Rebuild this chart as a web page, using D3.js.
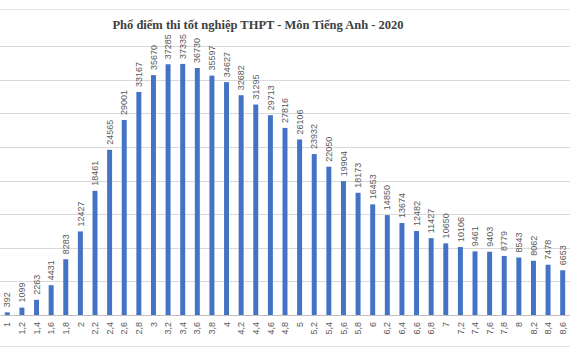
<!DOCTYPE html>
<html>
<head>
<meta charset="utf-8">
<script src="https://cdn.jsdelivr.net/npm/d3@7"></script>
<style>
  html, body { margin: 0; padding: 0; background: #fff; }
  svg { display: block; }
</style>
</head>
<body>
<svg id="chart" width="570" height="350"></svg>
<script>
// Score brackets (English exam, 2020)
const scores = ["1","1,2","1,4","1,6","1,8","2","2,2","2,4","2,6","2,8",
  "3","3,2","3,4","3,6","3,8","4","4,2","4,4","4,6","4,8",
  "5","5,2","5,4","5,6","5,8","6","6,2","6,4","6,6","6,8",
  "7","7,2","7,4","7,6","7,8","8","8,2","8,4","8,6"];

// Number of candidates per score bracket
const counts = [392, 1099, 2263, 4431, 8283, 12427, 18461, 24565, 29001, 33167,
  35670, 37285, 37335, 36730, 35597, 34627, 32682, 31295, 29713, 27816,
  26106, 23932, 22050, 19904, 18173, 16453, 14850, 13674, 12482, 11427,
  10650, 10106, 9461, 9403, 8779, 8543, 8062, 7478, 6653];

// Horizontal gridline values
const gridValues = [0, 5000, 10000, 15000, 20000, 25000, 30000, 35000, 40000];

const title = "Phổ điểm thi tốt nghiệp THPT - Môn Tiếng Anh - 2020";

const svg = d3.select("#chart");
const W = 570, H = 350;
const plot = { left: 0, right: 570, top: 46, bottom: 315 };

const x = d3.scaleBand()
  .domain(scores)
  .range([plot.left, plot.right])
  .paddingInner(0.66)
  .paddingOuter(0.33);

const y = d3.scaleLinear()
  .domain([0, 40000])
  .range([plot.bottom, plot.top]);

// Outer frame lines
svg.append("line")
  .attr("x1", 0).attr("x2", W).attr("y1", 9.5).attr("y2", 9.5)
  .attr("stroke", "#e3e3e3").attr("stroke-width", 1);
svg.append("line")
  .attr("x1", 0).attr("x2", W).attr("y1", 346.5).attr("y2", 346.5)
  .attr("stroke", "#e3e3e3").attr("stroke-width", 1);

// Gridlines
svg.append("g")
  .selectAll("line")
  .data(gridValues.filter(v => v > 0))
  .join("line")
  .attr("x1", plot.left).attr("x2", plot.right)
  .attr("y1", d => Math.round(y(d)) + 0.5)
  .attr("y2", d => Math.round(y(d)) + 0.5)
  .attr("stroke", "#d9d9d9").attr("stroke-width", 1);

// Category axis
const xAxis = d3.axisBottom(x).tickSize(0).tickPadding(0);
const gx = svg.append("g")
  .attr("transform", `translate(0,${plot.bottom})`)
  .call(xAxis);
gx.select(".domain").attr("stroke", "#bfbfbf");
gx.selectAll("text")
  .attr("fill", "#595959")
  .attr("font-family", "Liberation Sans, Arial, sans-serif")
  .attr("font-size", 9)
  .attr("text-anchor", "end")
  .attr("dy", "0.35em")
  .attr("transform", "translate(0,7) rotate(-90)")
  .attr("x", 0).attr("y", 0);

// Bars
svg.append("g")
  .selectAll("rect")
  .data(counts)
  .join("rect")
  .attr("x", (d, i) => x(scores[i]))
  .attr("width", x.bandwidth())
  .attr("y", d => y(d))
  .attr("height", d => y(0) - y(d))
  .attr("fill", "#4472c4");

// Value labels
svg.append("g")
  .selectAll("text")
  .data(counts)
  .join("text")
  .attr("transform", (d, i) =>
    `translate(${x(scores[i]) + x.bandwidth() / 2},${y(d) - 5}) rotate(-90)`)
  .attr("dy", "0.35em")
  .attr("text-anchor", "start")
  .attr("fill", "#595959")
  .attr("font-family", "Liberation Sans, Arial, sans-serif")
  .attr("font-size", 9)
  .text(d => d);

// Title
svg.append("text")
  .attr("x", 258)
  .attr("y", 29)
  .attr("text-anchor", "middle")
  .attr("fill", "#404040")
  .attr("font-family", "Liberation Serif, Times New Roman, serif")
  .attr("font-weight", "bold")
  .attr("font-size", 12.5)
  .text(title);
</script>
</body>
</html>
